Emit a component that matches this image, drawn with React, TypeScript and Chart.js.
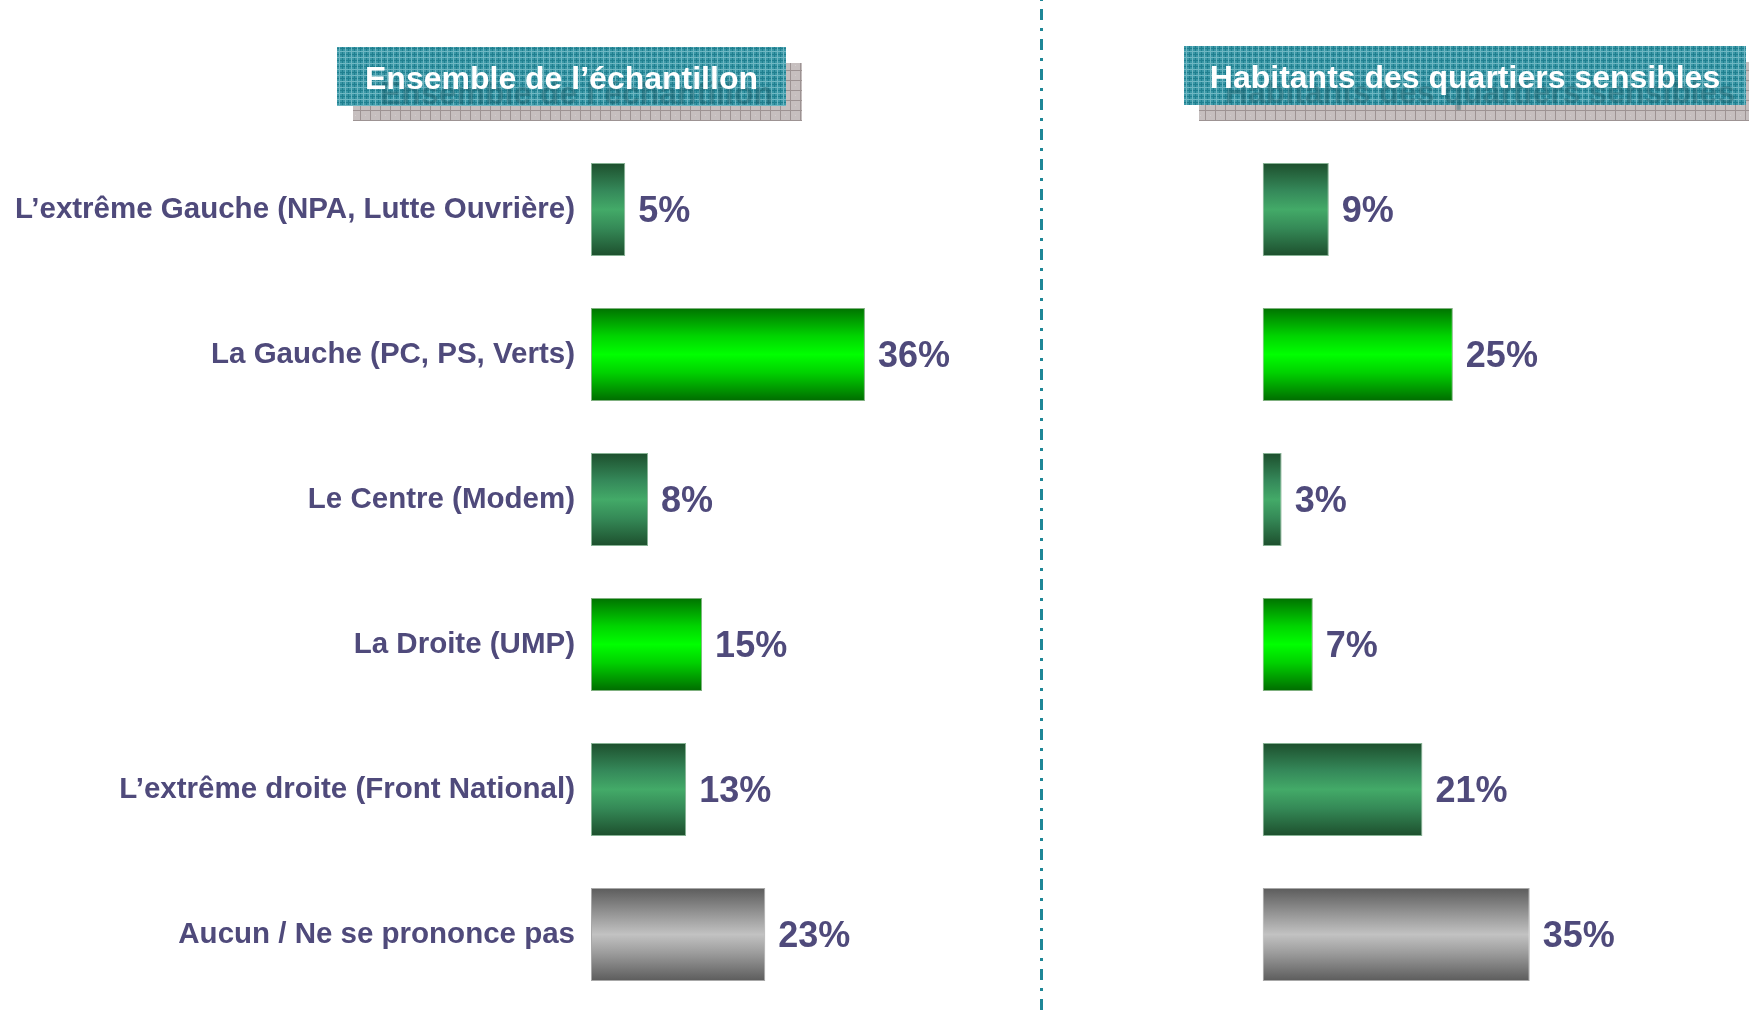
import React, { useEffect, useRef } from "react";
import { Chart, registerables } from "chart.js";

Chart.register(...registerables);

// ---- Data ----
const categories = [
  "L’extrême Gauche (NPA, Lutte Ouvrière)",
  "La Gauche (PC, PS, Verts)",
  "Le Centre (Modem)",
  "La Droite (UMP)",
  "L’extrême droite (Front National)",
  "Aucun / Ne se prononce pas",
];
const leftValues = [4.5, 36, 7.5, 14.6, 12.5, 22.9];
const leftLabels = ["5%", "36%", "8%", "15%", "13%", "23%"];
const rightValues = [8.7, 25, 2.5, 6.6, 21, 35.1];
const rightLabels = ["9%", "25%", "3%", "7%", "21%", "35%"];
const leftTitle = "Ensemble de l’échantillon";
const rightTitle = "Habitants des quartiers sensibles";

// ---- Styles ----
const FONT = "'Liberation Sans', Arial, Helvetica, sans-serif";
const TEXT_COLOR = "#4f4a7b";
const BAR_PCT = 0.64;
const barKinds = ["dark", "bright", "dark", "bright", "dark", "gray"];
const W = 1749;
const H = 1013;
const LEFT_W = 1045;

function gradientStops(kind: string): [number, string][] {
  if (kind === "bright")
    return [
      [0, "#007200"],
      [0.3, "#00d400"],
      [0.5, "#00ff00"],
      [0.7, "#00d000"],
      [1, "#006c00"],
    ];
  if (kind === "gray")
    return [
      [0, "#5c5c5c"],
      [0.3, "#9a9a9a"],
      [0.5, "#c2c2c2"],
      [0.7, "#9c9c9c"],
      [1, "#5c5c5c"],
    ];
  return [
    [0, "#1d4f2d"],
    [0.3, "#35895a"],
    [0.5, "#43aa68"],
    [0.7, "#358a57"],
    [1, "#1d4f2d"],
  ];
}

function barBackground(ctx: any) {
  const chart = ctx.chart;
  const kind = barKinds[ctx.dataIndex] || "dark";
  const stops = gradientStops(kind);
  const y = chart.scales && chart.scales.y;
  if (!y || ctx.dataIndex == null || !isFinite(y.height) || y.height <= 0) return stops[2][1];
  const c = y.getPixelForValue(ctx.dataIndex);
  const half = ((y.bottom - y.top) / categories.length) * BAR_PCT / 2;
  const g = chart.ctx.createLinearGradient(0, c - half, 0, c + half);
  stops.forEach(([o, col]) => g.addColorStop(o, col));
  return g;
}

function barBorder(ctx: any) {
  const kind = barKinds[ctx.dataIndex] || "dark";
  if (kind === "gray") return "#a8a8a8";
  if (kind === "bright") return "#7fb07f";
  return "#86b394";
}

function makePattern(kind: "teal" | "gray"): HTMLCanvasElement {
  const c = document.createElement("canvas");
  const p = c.getContext("2d")!;
  if (kind === "teal") {
    c.width = 6;
    c.height = 6;
    p.fillStyle = "#3a97a6";
    p.fillRect(0, 0, 6, 6);
    p.fillStyle = "#207f8f";
    p.fillRect(0, 0, 6, 1);
    p.fillRect(0, 0, 1, 6);
    p.fillStyle = "#6fb7c2";
    p.fillRect(0, 3, 6, 1);
    p.fillRect(3, 0, 1, 6);
  } else {
    c.width = 10;
    c.height = 10;
    p.fillStyle = "#c6bfbf";
    p.fillRect(0, 0, 10, 10);
    p.fillStyle = "#9d9393";
    p.fillRect(0, 0, 10, 1);
    p.fillRect(0, 0, 1, 10);
    p.fillStyle = "#d4cece";
    p.fillRect(5, 5, 1, 1);
  }
  return c;
}

type TitleSpec = {
  text: string;
  box: [number, number, number, number];
  shadow: [number, number, number, number];
};

function titlePlugin(spec: TitleSpec) {
  return {
    id: "boxTitle",
    afterDraw(chart: any) {
      const ctx = chart.ctx;
      ctx.save();
      const gp = ctx.createPattern(makePattern("gray"), "repeat");
      const tp = ctx.createPattern(makePattern("teal"), "repeat");
      const [sx, sy, sw, sh] = spec.shadow;
      ctx.fillStyle = gp;
      ctx.fillRect(sx, sy, sw, sh);
      const [bx, by, bw, bh] = spec.box;
      ctx.fillStyle = tp;
      ctx.fillRect(bx, by, bw, bh);
      ctx.font = `bold 32px ${FONT}`;
      ctx.textAlign = "center";
      ctx.textBaseline = "middle";
      ctx.shadowColor = "rgba(25, 85, 95, 0.4)";
      ctx.shadowOffsetX = 15;
      ctx.shadowOffsetY = 15;
      ctx.shadowBlur = 1;
      ctx.fillStyle = "#ffffff";
      ctx.fillText(spec.text, bx + bw / 2, by + bh / 2 + 4);
      ctx.restore();
    },
  };
}

function valueLabelPlugin(labels: string[]) {
  return {
    id: "valueLabels",
    afterDatasetsDraw(chart: any) {
      const ctx = chart.ctx;
      const meta = chart.getDatasetMeta(0);
      ctx.save();
      ctx.font = `bold 36px ${FONT}`;
      ctx.fillStyle = TEXT_COLOR;
      ctx.textAlign = "left";
      ctx.textBaseline = "middle";
      meta.data.forEach((bar: any, i: number) => {
        ctx.fillText(labels[i], bar.x + 13, bar.y + 3);
      });
      ctx.restore();
    },
  };
}

const dividerPlugin = {
  id: "divider",
  afterDraw(chart: any) {
    const ctx = chart.ctx;
    ctx.save();
    ctx.strokeStyle = "#1f8797";
    ctx.lineWidth = 3;
    ctx.setLineDash([11, 8, 3, 8]);
    ctx.lineDashOffset = -9;
    ctx.beginPath();
    ctx.moveTo(1041.5, 0);
    ctx.lineTo(1041.5, H);
    ctx.stroke();
    ctx.restore();
  },
};

function makeConfig(
  values: number[],
  labels: string[],
  showCategories: boolean,
  padding: { left: number; right: number },
  title: TitleSpec,
  extra: any[]
): any {
  return {
    type: "bar",
    data: {
      labels: categories,
      datasets: [
        {
          data: values,
          backgroundColor: barBackground,
          borderColor: barBorder,
          borderWidth: 1,
          borderSkipped: false,
          barPercentage: BAR_PCT,
          categoryPercentage: 1,
        },
      ],
    },
    options: {
      indexAxis: "y",
      responsive: false,
      animation: false,
      devicePixelRatio: 1,
      layout: {
        padding: { top: 137, bottom: 6, left: padding.left, right: padding.right },
      },
      plugins: {
        legend: { display: false },
        tooltip: { enabled: false },
        title: { display: false },
      },
      scales: {
        x: {
          display: false,
          min: 0,
          max: 50,
        },
        y: {
          display: showCategories,
          grid: { display: false, drawTicks: false },
          border: { display: false },
          ticks: {
            color: TEXT_COLOR,
            font: { family: FONT, size: 29.5, weight: "bold" },
            padding: 16,
            crossAlign: "near",
          },
          afterFit: (scale: any) => {
            if (showCategories) scale.width = 591;
            scale.paddingTop = 0;
            scale.paddingBottom = 0;
          },
        },
      },
    },
    plugins: [titlePlugin(title), valueLabelPlugin(labels), ...extra],
  };
}

export default function App() {
  const leftRef = useRef<HTMLCanvasElement | null>(null);
  const rightRef = useRef<HTMLCanvasElement | null>(null);

  useEffect(() => {
    const left = new Chart(
      leftRef.current!,
      makeConfig(
        leftValues,
        leftLabels,
        true,
        { left: 0, right: LEFT_W - 591 - 380.5 },
        { text: leftTitle, box: [337, 47, 449, 59], shadow: [353, 63, 449, 58] },
        [dividerPlugin]
      )
    );
    const rw = W - LEFT_W;
    const rLeft = 1262.6 - LEFT_W;
    const right = new Chart(
      rightRef.current!,
      makeConfig(
        rightValues,
        rightLabels,
        false,
        { left: rLeft, right: rw - rLeft - 380.5 },
        { text: rightTitle, box: [1184 - LEFT_W, 46, 562, 59], shadow: [1199 - LEFT_W, 62, 562, 59] },
        []
      )
    );
    return () => {
      left.destroy();
      right.destroy();
    };
  }, []);

  return (
    <div
      style={{
        position: "absolute",
        left: 0,
        top: 0,
        width: W,
        height: H,
        background: "#ffffff",
        overflow: "hidden",
      }}
    >
      <canvas
        ref={leftRef}
        width={LEFT_W}
        height={H}
        style={{ position: "absolute", left: 0, top: 0, width: LEFT_W, height: H }}
      />
      <canvas
        ref={rightRef}
        width={W - LEFT_W}
        height={H}
        style={{ position: "absolute", left: LEFT_W, top: 0, width: W - LEFT_W, height: H }}
      />
    </div>
  );
}
